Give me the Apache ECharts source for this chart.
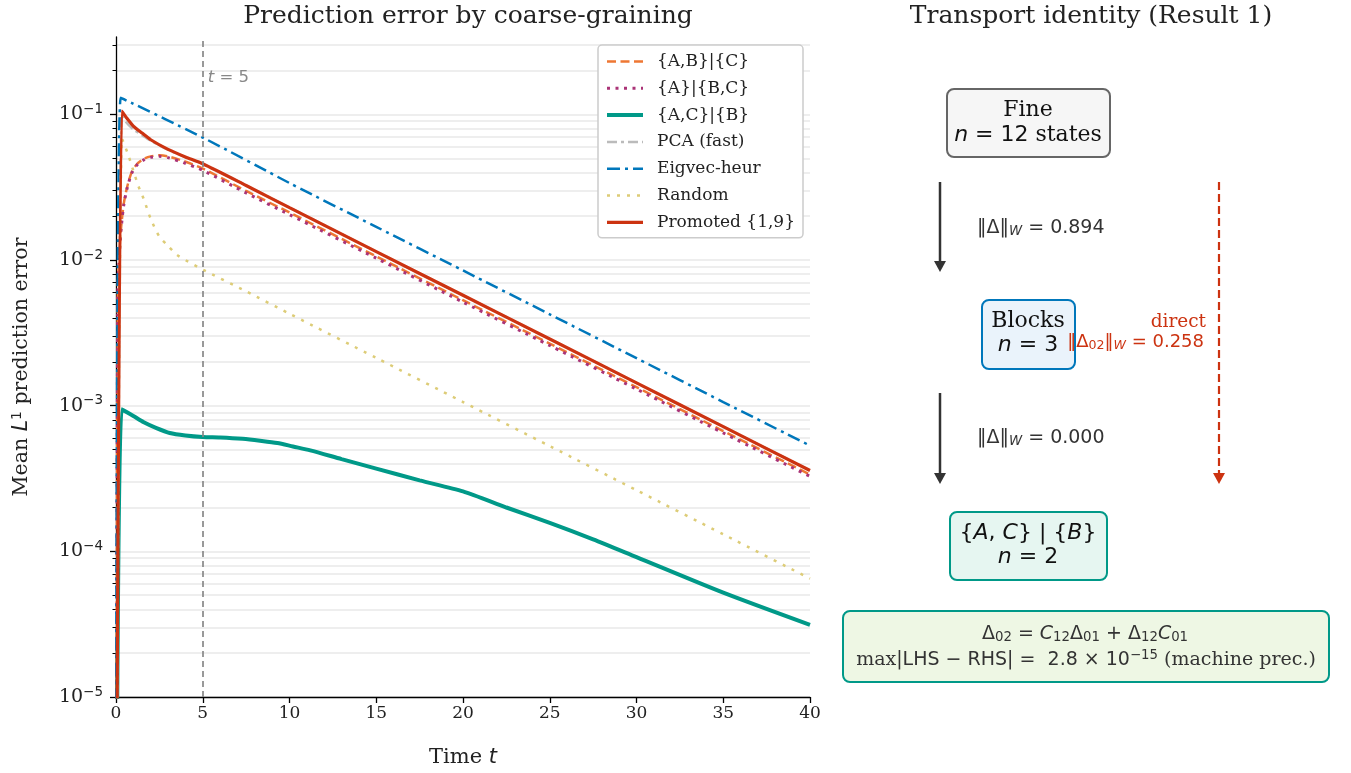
<!DOCTYPE html>
<html>
<head>
<meta charset="utf-8">
<title>Prediction error by coarse-graining</title>
<script src="https://cdn.jsdelivr.net/npm/echarts@6.0.0/dist/echarts.min.js"></script>
<style>
  html, body { margin: 0; padding: 0; background: #fff; }
  #chart { width: 1351px; height: 773px; }
</style>
</head>
<body>
<div id="chart"></div>
<script>
// ---- data ----
var tAB = [0, 0.1, 0.2, 0.3, 0.45, 0.65, 0.9, 1.2, 1.6, 2, 2.5, 3, 3.9, 5, 7.5, 10, 15, 20, 25, 30, 35, 40];
var errAB = [1e-7, 0.006, 0.0115, 0.017, 0.0245, 0.032, 0.040, 0.0455, 0.0495, 0.0515, 0.0524, 0.0515, 0.0478, 0.0425, 0.0298, 0.0212, 0.0106, 0.0053, 0.00267, 0.00134, 6.7e-4, 3.37e-4];
var errA_BC = [1e-7, 0.0058, 0.0112, 0.0166, 0.024, 0.0314, 0.0393, 0.0448, 0.0487, 0.0507, 0.0516, 0.0505, 0.0466, 0.0413, 0.0289, 0.0205, 0.0103, 0.00514, 0.00259, 0.0013, 6.5e-4, 3.27e-4];

var tAC = [0, 0.33, 1.0, 1.6, 2.3, 3.1, 4.0, 5.0, 6.0, 7.3, 8.3, 9.3, 10.2, 11.2, 13, 15, 17.5, 20, 22.5, 25, 27.5, 30, 35, 40];
var errAC = [1e-7, 9.44e-4, 8.5e-4, 7.7e-4, 7.05e-4, 6.5e-4, 6.25e-4, 6.1e-4, 6.05e-4, 5.92e-4, 5.75e-4, 5.55e-4, 5.25e-4, 4.94e-4, 4.3e-4, 3.7e-4, 3.07e-4, 2.58e-4, 2.0e-4, 1.57e-4, 1.21e-4, 9.14e-5, 5.21e-5, 3.13e-5];

var tPro = [0, 0.33, 0.6, 1.0, 1.5, 2, 3, 4, 5, 7.5, 10, 15, 20, 25, 30, 35, 40];
var errPCA = [1e-7, 0.1, 0.088, 0.079, 0.072, 0.066, 0.0572, 0.0509, 0.0457, 0.0325, 0.0229, 0.01143, 0.00573, 0.00287, 0.001435, 7.18e-4, 3.59e-4];
var errPro = [1e-7, 0.1055, 0.095, 0.0832, 0.0745, 0.067, 0.0575, 0.051, 0.0458, 0.0325, 0.0229, 0.01143, 0.00573, 0.00287, 0.001435, 7.18e-4, 3.59e-4];

var tEig = [0, 0.27, 5, 10, 15, 20, 25, 30, 35, 40];
var errEig = [1e-7, 0.130, 0.0694, 0.0338, 0.0169, 0.00848, 0.00424, 0.00212, 0.00106, 5.32e-4];

var tRnd = [0, 0.35, 0.7, 1.0, 1.3, 1.6, 2.0, 2.5, 3.0, 3.5, 4.0, 5.0, 7.5, 10, 15, 20, 25, 30, 35, 40];
var errRnd = [1e-7, 0.068, 0.053, 0.041, 0.032, 0.0262, 0.0192, 0.0145, 0.0125, 0.0109, 0.01, 0.0086, 0.0061, 0.00428, 0.00213, 0.00106, 5.28e-4, 2.63e-4, 1.31e-4, 6.5e-5];

var seriesNames = ['{A,B}|{C}', '{A}|{B,C}', '{A,C}|{B}', 'PCA (fast)', 'Eigvec-heur', 'Random', 'Promoted {1,9}'];
var yMajor = [1e-5, 1e-4, 1e-3, 1e-2, 1e-1];
var yMinor = [];
for (var d = -5; d <= -1; d++) {
  for (var k = 1; k <= 9; k++) {
    var v = k * Math.pow(10, d);
    if (v <= 0.34) yMinor.push(+v.toPrecision(3));
  }
}

var SERIF = 'DejaVu Serif';
var SANS = 'DejaVu Sans';

function pairs(t, v) {
  return t.map(function (x, i) { return [x, v[i]]; });
}

var chart = echarts.init(document.getElementById('chart'));

function mathRich(size, color) {
  return {
    i: { fontFamily: SANS, fontStyle: 'italic', fontSize: size, color: color },
    s: { fontFamily: SANS, fontSize: size, color: color },
    r: { fontFamily: SERIF, fontSize: size, color: color },
    sub: { fontFamily: SANS, fontStyle: 'italic', fontSize: size * 0.7, color: color, verticalAlign: 'bottom', padding: [7, 0, 0, 0] },
    subn: { fontFamily: SANS, fontSize: size * 0.7, color: color, verticalAlign: 'bottom', padding: [7, 0, 0, 0] },
    sup: { fontFamily: SANS, fontSize: size * 0.7, color: color, verticalAlign: 'top', padding: [0, 0, 8, 0] }
  };
}

function box(x, y, w, h, fill, stroke) {
  return {
    type: 'rect', shape: { x: x, y: y, width: w, height: h, r: 7 },
    style: { fill: fill, stroke: stroke, lineWidth: 2 }, z: 10
  };
}

function label(x, y, text, size, color, align) {
  return {
    type: 'text', x: x, y: y, z: 11,
    style: {
      text: text, align: align || 'center', verticalAlign: 'middle',
      rich: mathRich(size, color), fill: color, fontSize: size, fontFamily: SANS
    }
  };
}

function arrow(x, y0, y1, color, dashed) {
  return [
    { type: 'line', z: 10, shape: { x1: x, y1: y0, x2: x, y2: y1 - 8 },
      style: { stroke: color, lineWidth: dashed ? 2.2 : 2.5, lineDash: dashed ? [8, 4] : null } },
    { type: 'polygon', z: 10, shape: { points: [[x - 6, y1 - 11], [x + 6, y1 - 11], [x, y1]] },
      style: { fill: color } }
  ];
}

var graphics = [].concat(
  [box(947, 89, 163, 68, '#f6f6f6', '#666666'),
   label(1028, 110, '{r|Fine}', 22, '#111'),
   label(1028, 135, '{i|n}{s| = 12 }{r|states}', 22, '#111')],
  arrow(940, 182, 272, '#333333', false),
  [label(977, 228, '{s|‖Δ‖}{sub|W}{s| = 0.894}', 19, '#333', 'left')],
  [box(982, 300, 93, 69, '#eaf3fb', '#0077BB'),
   label(1028, 321, '{r|Blocks}', 22, '#111'),
   label(1028, 345, '{i|n}{s| = 3}', 22, '#111')],
  [label(1206, 322, '{r|direct}', 18.5, '#CC3311', 'right'),
   label(1204, 342, '{s|‖Δ}{subn|02}{s|‖}{sub|W}{s| = 0.258}', 18, '#CC3311', 'right')],
  arrow(1219, 182, 484, '#CC3311', true),
  arrow(940, 393, 484, '#333333', false),
  [label(977, 438, '{s|‖Δ‖}{sub|W}{s| = 0.000}', 19, '#333', 'left')],
  [box(950, 512, 157, 68, '#e6f6f1', '#009988'),
   label(1028, 533, '{s|{}{i|A}{s|, }{i|C}} | {s|{}{i|B}}', 22, '#111'),
   label(1028, 557, '{i|n}{s| = 2}', 22, '#111')],
  [box(843, 611, 486, 71, '#eef7e4', '#009988'),
   label(1085, 634, '{s|Δ}{subn|02}{s| = }{i|C}{subn|12}{s|Δ}{subn|01}{s| + Δ}{subn|12}{i|C}{subn|01}', 19, '#333'),
   label(1086, 660, '{r|max}{s||LHS − RHS| =  2.8 × 10}{sup|−15}{r| (machine prec.)}', 19, '#333')]
);

function lineSeries(name, data, color, width, type, extra) {
  var s = {
    name: name, type: 'line', data: data, symbol: 'none', smooth: 0.25,
    lineStyle: { color: color, width: width, type: type },
    itemStyle: { color: color },
    emphasis: { disabled: true }
  };
  for (var key in extra) s[key] = extra[key];
  return s;
}

var option = {
  animation: false,
  backgroundColor: '#ffffff',
  title: [
    { text: 'Prediction error by coarse-graining', left: 463, top: -1, textAlign: 'center',
      textStyle: { fontFamily: SERIF, fontSize: 25, fontWeight: 'normal', color: '#222' } },
    { text: 'Transport identity (Result 1)', left: 1086, top: -1, textAlign: 'center',
      textStyle: { fontFamily: SERIF, fontSize: 25, fontWeight: 'normal', color: '#222' } }
  ],
  legend: {
    left: 598, top: 45, orient: 'vertical',
    itemWidth: 36, itemHeight: 14, itemGap: 9.8,
    backgroundColor: '#ffffff', borderColor: '#cccccc', borderWidth: 1.5, borderRadius: 4,
    padding: [8, 8, 7, 7],
    itemStyle: { opacity: 0 },
    lineStyle: { width: 'inherit' },
    textStyle: { fontFamily: SERIF, fontSize: 17, lineHeight: 17, color: '#222', padding: [0, 0, 0, 9] },
    data: seriesNames
  },
  grid: { left: 116, right: 541, top: 37, bottom: 74 },
  xAxis: {
    type: 'value', min: 0, max: 40, interval: 5,
    name: 'Time {i|t}', nameLocation: 'middle', nameGap: 50,
    nameTextStyle: { fontFamily: SERIF, fontSize: 21, color: '#222',
      rich: { i: { fontFamily: SANS, fontStyle: 'italic', fontSize: 21, color: '#222' } } },
    axisLine: { lineStyle: { color: '#000', width: 1.3 } },
    axisTick: { length: 6, lineStyle: { color: '#000', width: 1.3 } },
    axisLabel: { fontFamily: SERIF, fontSize: 17, color: '#222', margin: 8 },
    splitLine: { show: false }
  },
  yAxis: [
    {
      type: 'log', min: 1e-5, max: 0.34, logBase: 10,
      name: 'Mean {i|L}{sup|1} prediction error', nameLocation: 'middle', nameGap: 83,
      nameTextStyle: { fontFamily: SERIF, fontSize: 20.5, color: '#222',
        rich: {
          i: { fontFamily: SANS, fontStyle: 'italic', fontSize: 20.5, color: '#222' },
          sup: { fontFamily: SANS, fontSize: 14, color: '#222', verticalAlign: 'top', padding: [0, 0, 9, 0] }
        } },
      axisLine: { show: true, lineStyle: { color: '#000', width: 1.3 } },
      axisTick: { show: true, length: 3.5, customValues: yMinor, lineStyle: { color: '#000', width: 1 } },
      axisLabel: { show: false },
      splitLine: { show: true, lineStyle: { color: '#e8e8e8', width: 1.5 } }
    },
    {
      type: 'log', min: 1e-5, max: 0.34, logBase: 10, position: 'left', offset: 0,
      axisLine: { show: false },
      axisTick: { show: true, length: 6, customValues: yMajor, lineStyle: { color: '#000', width: 1.3 } },
      axisLabel: {
        show: true, customValues: yMajor, margin: 13,
        fontFamily: SERIF, fontSize: 19, color: '#222',
        rich: {
          sup: { fontSize: 13.5, fontFamily: SANS, color: '#222', verticalAlign: 'top', padding: [0, 0, 10, 0] }
        },
        formatter: function (v) {
          var e = Math.round(Math.log10(v));
          return '10{sup|' + (e < 0 ? '−' : '') + Math.abs(e) + '}';
        }
      },
      splitLine: { show: false }
    }
  ],
  series: [
    lineSeries(seriesNames[0], pairs(tAB, errAB), '#EE7733', 2.5, [9, 4.5], {
      markLine: {
        silent: true, symbol: 'none', animation: false,
        lineStyle: { color: '#888', type: [6, 4], width: 1.7 },
        label: { show: false },
        data: [{ xAxis: 5 }]
      },
      markPoint: {
        silent: true, symbol: 'circle', symbolSize: 0,
        label: {
          show: true, position: 'right', distance: 5,
          formatter: '{i|t}{s| = 5}',
          rich: {
            i: { fontFamily: SANS, fontStyle: 'italic', fontSize: 16.5, color: '#888' },
            s: { fontFamily: SANS, fontSize: 16.5, color: '#888' }
          }
        },
        data: [{ coord: [5, 0.18] }]
      }
    }),
    lineSeries(seriesNames[1], pairs(tAB, errA_BC), '#AA3377', 3, [3, 5.5]),
    lineSeries(seriesNames[2], pairs(tAC, errAC), '#009988', 4, 'solid'),
    lineSeries(seriesNames[3], pairs(tPro, errPCA), '#BBBBBB', 2.5, [10, 4, 3, 4]),
    lineSeries(seriesNames[4], pairs(tEig, errEig), '#0077BB', 2.5, [13, 5, 3, 5]),
    lineSeries(seriesNames[5], pairs(tRnd, errRnd), '#DDCC77', 2.5, [3, 7]),
    lineSeries(seriesNames[6], pairs(tPro, errPro), '#CC3311', 3.2, 'solid')
  ],
  graphic: graphics
};

chart.setOption(option);
window.addEventListener('resize', function () {
  chart.resize();
});
</script>
</body>
</html>
